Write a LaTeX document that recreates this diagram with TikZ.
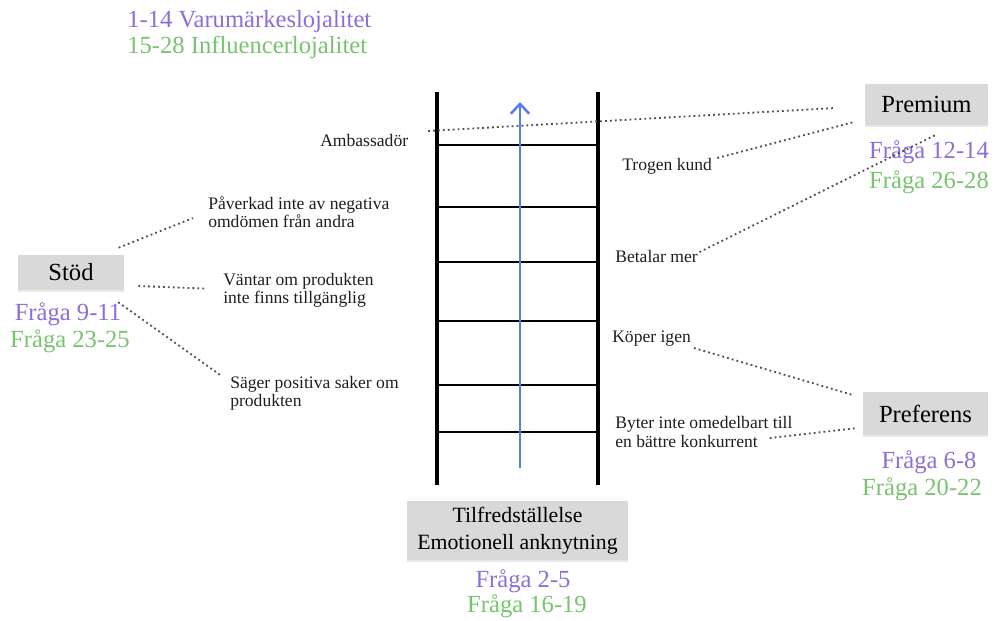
\documentclass[tikz,border=0pt]{standalone}
\usepackage{fontspec}
\setmainfont{Liberation Serif}
\usetikzlibrary{arrows.meta,shadows,positioning}

\begin{document}
\begin{tikzpicture}[x=0.025cm, y=-0.025cm,
    greybox/.style={fill=boxgrey, inner sep=0pt, font=\fontsize{17.5}{20}\selectfont,
      drop shadow={opacity=0.18, shadow xshift=0pt, shadow yshift=-1.2pt}},
    itemtext/.style={anchor=west, align=left, inner sep=0pt, text=labelgrey,
      font=\fontsize{12.5}{13}\selectfont},
    qviolet/.style={inner sep=0pt, text=violetq, font=\fontsize{17.5}{20}\selectfont},
    qgreen/.style={inner sep=0pt, text=greenq, font=\fontsize{17.5}{20}\selectfont},
    dotline/.style={draw=dotgrey, line width=1.3pt, dash pattern=on 1.3pt off 2.2pt},
    rail/.style={line width=2.5pt},
    rung/.style={line width=1.9pt}]
  \definecolor{boxgrey}{RGB}{217,217,217}
  \definecolor{labelgrey}{RGB}{30,30,30}
  \definecolor{dotgrey}{RGB}{80,80,80}
  \definecolor{violetq}{RGB}{140,110,215}
  \definecolor{greenq}{RGB}{120,195,110}
  \definecolor{arrowblue}{RGB}{85,125,235}
  \useasboundingbox (0,0) rectangle (995,620);

  % legend
  \node[qviolet, anchor=west] (legA) at (127,22) {1-14 Varumärkeslojalitet};
  \node[qgreen, anchor=west] (legB) at (127,47) {15-28 Influencerlojalitet};

  % ladder
  \draw[rail] (437,92) -- (437,485);
  \draw[rail] (598,92) -- (598,485);
  \foreach \y in {145,207,262,321,385,432}
    \draw[rung] (437,\y) -- (598,\y);
  \draw[arrowblue, line width=1.8pt, -{Straight Barb[length=7pt,width=13pt]}] (520,468) -- (520,102);

  % grey boxes
  \node[greybox, minimum width=2.65cm, minimum height=0.875cm] (stod) at (71,272.5) {Stöd};
  \node[greybox, minimum width=3.075cm, minimum height=1.025cm] (prem) at (926.5,104.5) {Premium};
  \node[greybox, minimum width=3.125cm, minimum height=1.075cm] (pref) at (925.5,413.5) {Preferens};
  \node[greybox, minimum width=5.525cm, minimum height=1.475cm, align=center,
    font=\fontsize{15.5}{19}\selectfont] (base) at (517.5,530.5) {Tilfredställelse\\Emotionell anknytning};

  % question numbers
  \node[qviolet] (q911) at (68,314) {Fråga 9-11};
  \node[qgreen] (q2325) at (70,341) {Fråga 23-25};
  \node[qviolet] (q1214) at (929,152) {Fråga 12-14};
  \node[qgreen] (q2628) at (929,182) {Fråga 26-28};
  \node[qviolet] (q68) at (929,462) {Fråga 6-8};
  \node[qgreen] (q2022) at (922,489) {Fråga 20-22};
  \node[qviolet] (q25) at (523,581) {Fråga 2-5};
  \node[qgreen] (q1619) at (527,606) {Fråga 16-19};

  % steps
  \node[itemtext] (amb) at (320,140) {Ambassadör};
  \node[itemtext] (pav) at (208,212) {Påverkad inte av negativa\\omdömen från andra};
  \node[itemtext] (vant) at (223,290) {Väntar om produkten\\inte finns tillgänglig};
  \node[itemtext] (sag) at (230,393) {Säger positiva saker om\\produkten};
  \node[itemtext] (trog) at (622,166) {Trogen kund};
  \node[itemtext] (bet) at (615,256) {Betalar mer};
  \node[itemtext] (kop) at (612,339) {Köper igen};
  \node[itemtext] (byt) at (615,432) {Byter inte omedelbart till\\en bättre konkurrent};

  % dotted links
  \draw[dotline] ([xshift=-4pt,yshift=5pt]stod.north east) -- ([xshift=-10.7pt,yshift=-4.3pt]pav.west);
  \draw[dotline] ([xshift=10pt,yshift=-9.6pt]stod.east) -- ([xshift=-12.8pt,yshift=1pt]vant.west);
  \draw[dotline] ([xshift=-4.3pt,yshift=-8.5pt]stod.south east) -- ([xshift=-7pt,yshift=12.8pt]sag.west);
  \draw[dotline] ([xshift=14pt,yshift=6.4pt]amb.east) -- ([xshift=-21.3pt,yshift=-2.5pt]prem.west);
  \draw[dotline] ([xshift=3.6pt,yshift=5.7pt]trog.east) -- ([xshift=-8.5pt,yshift=2.1pt]prem.south west);
  \draw[dotline] ([xshift=1pt,yshift=2.8pt]bet.east) -- ([xshift=6pt,yshift=-7.1pt]prem.south);
  \draw[dotline] ([xshift=2pt,yshift=-6.4pt]kop.east) -- ([xshift=-7.8pt,yshift=-2.1pt]pref.north west);
  \draw[dotline] ([xshift=-16.4pt,yshift=-4.3pt]byt.east) -- ([xshift=-3.6pt,yshift=-10.3pt]pref.west);
\end{tikzpicture}
\end{document}
